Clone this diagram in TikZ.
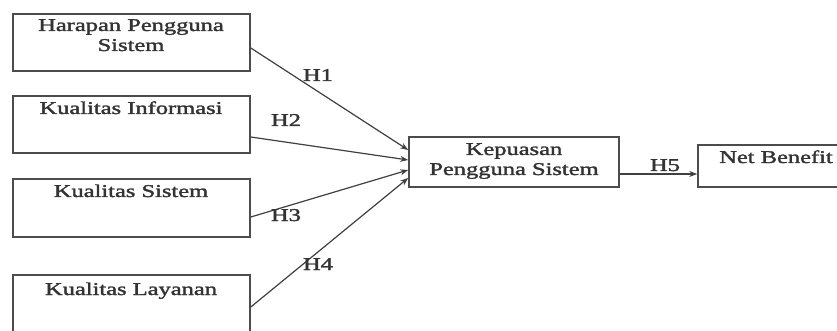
\documentclass[tikz,border=0pt]{standalone}
\usepackage{fontspec}
\setmainfont{Liberation Serif}[FakeBold=1.5]
\usetikzlibrary{calc,arrows.meta}
\newcommand{\tx}[1]{\scalebox{1.36}[1]{\begin{tabular}{@{}c@{}}#1\end{tabular}}}
\begin{document}
\begin{tikzpicture}[x=1pt,y=-1pt,
  box/.style={draw=black!70,line width=1.6pt,inner sep=0pt},
  lbl/.style={inner sep=0pt,text=black!80,font=\fontsize{18pt}{20pt}\selectfont},
  arr/.style={draw=black!75,line width=1.2pt,-{Stealth[length=8pt,width=6pt]}}]
\useasboundingbox (0,0) rectangle (837,331);
\clip (0,0) rectangle (837,331);
\fill[white] (0,0) rectangle (837,331);
% boxes
\node[box,minimum width=237pt,minimum height=57pt] (b1) at (131.5,42.5) {};
\node[box,minimum width=237pt,minimum height=57pt] (b2) at (131.5,124.5) {};
\node[box,minimum width=237pt,minimum height=58pt] (b3) at (131.5,208) {};
\node[box,minimum width=237pt,minimum height=64pt] (b4) at (131.5,307) {};
\node[box,minimum width=210pt,minimum height=50pt] (c) at (514,162) {};
\node[box,minimum width=160pt,minimum height=42pt] (nb) at (778,166) {};
% texts
\node[lbl] (t1) at (131,37) {\tx{Harapan Pengguna\\Sistem}};
\node[lbl] (t2) at (131,110) {\tx{Kualitas Informasi}};
\node[lbl] (t3) at (131,193) {\tx{Kualitas Sistem}};
\node[lbl] (t4) at (131,291) {\tx{Kualitas Layanan}};
\node[lbl] (tc) at (514,161) {\tx{Kepuasan\\Pengguna Sistem}};
\node[lbl] (tn) at (776,159) {\tx{Net Benefit}};
% arrows
\draw[arr] ([yshift=-5.5pt]b1.east) -- ([yshift=12pt]c.west);
\draw[arr] ([yshift=-12.5pt]b2.east) -- ([yshift=2pt]c.west);
\draw[arr] ([yshift=-9pt]b3.east) -- ([yshift=-8pt]c.west);
\draw[arr] (b4.east) -- ([yshift=-16pt]c.west);
\draw[arr] ([yshift=-12pt]c.east) -- ([yshift=-8pt]nb.west);
% labels
\node[lbl] (h1) at (318,77) {\tx{H1}};
\node[lbl] (h2) at (286,122) {\tx{H2}};
\node[lbl] (h3) at (286,217) {\tx{H3}};
\node[lbl] (h4) at (318,266) {\tx{H4}};
\node[lbl] (h5) at (665,167) {\tx{H5}};
\end{tikzpicture}
\end{document}
